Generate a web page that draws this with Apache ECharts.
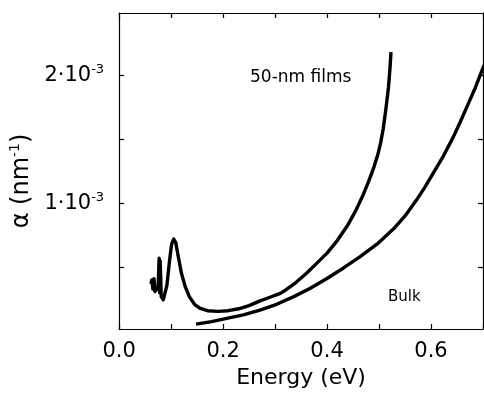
<!DOCTYPE html>
<html>
<head>
<meta charset="utf-8">
<script src="https://cdn.jsdelivr.net/npm/echarts@6/dist/echarts.min.js"></script>
<style>
  html, body { margin: 0; padding: 0; background: #fff; }
  #chart { width: 484px; height: 395px; }
</style>
</head>
<body>
<div id="chart"></div>
<script>
// absorption coefficient, in units of 1e-3 nm^-1, vs photon energy (eV)
const filmEnergy = [0.061, 0.063, 0.065, 0.067, 0.069, 0.072, 0.075, 0.077, 0.078, 0.079, 0.081, 0.085,
  0.088, 0.092, 0.097, 0.101, 0.105, 0.109, 0.114, 0.120, 0.127, 0.135, 0.145, 0.155, 0.170, 0.190,
  0.210, 0.230, 0.250, 0.270, 0.290, 0.300, 0.310, 0.320, 0.340, 0.360, 0.380, 0.400, 0.420, 0.440,
  0.455, 0.470, 0.480, 0.490, 0.497, 0.503, 0.508, 0.513, 0.518, 0.521, 0.523];
const filmAlpha = [0.37, 0.40, 0.33, 0.41, 0.31, 0.30, 0.34, 0.57, 0.30, 0.55, 0.27, 0.245,
  0.25, 0.36, 0.55, 0.68, 0.72, 0.69, 0.58, 0.45, 0.35, 0.27, 0.21, 0.18, 0.16, 0.155,
  0.16, 0.175, 0.20, 0.235, 0.265, 0.28, 0.295, 0.32, 0.38, 0.45, 0.53, 0.61, 0.71, 0.83,
  0.94, 1.07, 1.17, 1.28, 1.37, 1.47, 1.58, 1.73, 1.90, 2.05, 2.18];

const bulkEnergy = [0.148, 0.178, 0.207, 0.239, 0.271, 0.303, 0.335, 0.367, 0.399, 0.431, 0.463,
  0.496, 0.528, 0.550, 0.572, 0.588, 0.604, 0.624, 0.643, 0.656, 0.669, 0.686, 0.702];
const bulkAlpha = [0.055, 0.075, 0.100, 0.128, 0.164, 0.210, 0.268, 0.333, 0.410, 0.492, 0.581,
  0.680, 0.800, 0.900, 1.024, 1.124, 1.232, 1.370, 1.518, 1.632, 1.753, 1.910, 2.078];

const xLabelValues = [0, 0.2, 0.4, 0.6];
const yTickValues = [0.5, 1, 1.5, 2];
const yLabelValues = [1, 2];

const font = "DejaVu Sans";
const black = "#000";

const chart = echarts.init(document.getElementById("chart"));

const zip = (xs, ys) => xs.map((x, i) => [x, ys[i]]);

const axisBase = {
  axisLine: { show: true, onZero: false, lineStyle: { color: black, width: 1.2 } },
  splitLine: { show: false }
};
const tickStyle = { color: black, width: 1.2 };

chart.setOption({
  animation: false,
  backgroundColor: "#fff",
  grid: { left: 119, right: 1, top: 13, bottom: 66 },
  xAxis: [
    {
      ...axisBase,
      type: "value",
      min: 0,
      max: 0.7,
      interval: 0.1,
      position: "bottom",
      axisTick: { show: true, inside: true, length: 5, lineStyle: tickStyle },
      axisLabel: {
        customValues: xLabelValues,
        formatter: v => v.toFixed(1),
        color: black,
        fontFamily: font,
        fontSize: 21,
        margin: 12
      },
      name: "Energy (eV)",
      nameLocation: "middle",
      nameGap: 36,
      nameTextStyle: { color: black, fontFamily: font, fontSize: 22 }
    },
    {
      ...axisBase,
      type: "value",
      min: 0,
      max: 0.7,
      interval: 0.1,
      position: "top",
      axisTick: { show: true, inside: true, length: 5, lineStyle: tickStyle },
      axisLabel: { show: false }
    }
  ],
  yAxis: [
    {
      ...axisBase,
      type: "value",
      min: 0.017,
      max: 2.486,
      position: "left",
      axisTick: { show: true, inside: true, length: 5, customValues: yTickValues, lineStyle: tickStyle },
      axisLabel: {
        customValues: yLabelValues,
        formatter: v => "{b|" + v + "·10}{s|-3}",
        margin: 15,
        rich: {
          b: { color: black, fontFamily: font, fontSize: 21 },
          s: { color: black, fontFamily: font, fontSize: 13, padding: [0, 0, 12, 0] }
        }
      },
      name: "{b|α (nm}{s|-1}{b|)}",
      nameLocation: "middle",
      nameGap: 80,
      nameRotate: 90,
      nameTextStyle: {
        padding: [0, 20, 0, 0],
        rich: {
          b: { color: black, fontFamily: font, fontSize: 24 },
          s: { color: black, fontFamily: font, fontSize: 14, padding: [0, 0, 13, 0] }
        }
      }
    },
    {
      ...axisBase,
      type: "value",
      min: 0.017,
      max: 2.486,
      position: "right",
      axisTick: { show: true, inside: true, length: 5, customValues: yTickValues, lineStyle: tickStyle },
      axisLabel: { show: false }
    }
  ],
  graphic: [
    {
      type: "text",
      left: 250,
      top: 69,
      style: { text: "50-nm films", font: "17px " + font, fill: black }
    },
    {
      type: "text",
      left: 388,
      top: 290,
      style: { text: "Bulk", font: "15px " + font, fill: black }
    }
  ],
  series: [
    {
      name: "50-nm films",
      type: "line",
      data: zip(filmEnergy, filmAlpha),
      showSymbol: false,
      lineStyle: { color: black, width: 3.4, join: "round" }
    },
    {
      name: "Bulk",
      type: "line",
      data: zip(bulkEnergy, bulkAlpha),
      showSymbol: false,
      lineStyle: { color: black, width: 3.4, join: "round" }
    }
  ]
});
</script>
</body>
</html>
